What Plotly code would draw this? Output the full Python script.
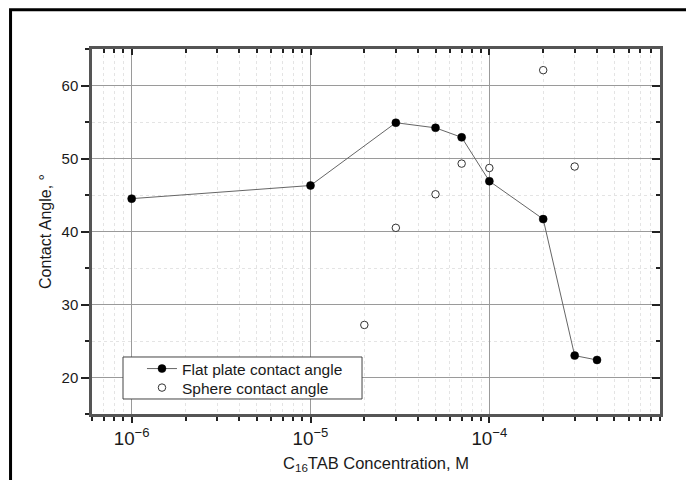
import plotly.graph_objects as go

# Data
flat_x = [1e-6, 1e-5, 3e-5, 5e-5, 7e-5, 1e-4, 2e-4, 3e-4, 4e-4]
flat_y = [44.5, 46.3, 54.9, 54.2, 52.9, 46.9, 41.7, 23.0, 22.4]
sphere_x = [2e-5, 3e-5, 5e-5, 7e-5, 1e-4, 2e-4, 3e-4]
sphere_y = [27.2, 40.5, 45.1, 49.3, 48.7, 62.1, 48.9]
y_ticks = [20, 30, 40, 50, 60]

FONT = "Liberation Sans, Arial, sans-serif"
AXC = "#555555"
TXT = "#1a1a1a"

fig = go.Figure()
fig.add_trace(go.Scatter(
    x=flat_x, y=flat_y, mode="lines+markers", name="Flat plate contact angle",
    line=dict(color="#666666", width=1),
    marker=dict(color="black", size=8, line=dict(color="black", width=0.5)),
    legend="legend",
))
fig.add_trace(go.Scatter(
    x=sphere_x, y=sphere_y, mode="markers", name="Sphere contact angle",
    marker=dict(color="white", size=7.5, line=dict(color="#333333", width=1)),
    legend="legend2",
))
# invisible trace to create the mirrored axes
fig.add_trace(go.Scatter(x=[None], y=[None], xaxis="x2", yaxis="y2",
                         showlegend=False, hoverinfo="skip"))

xr = [-6.2218, -3.0458]
yr = [15, 65]

leg_common = dict(
    xanchor="left", yanchor="middle",
    bgcolor="rgba(0,0,0,0)", borderwidth=0,
    font=dict(family=FONT, size=15.5, color=TXT),
    itemwidth=30,
)

fig.update_layout(
    width=686, height=480,
    margin=dict(l=92, r=26, t=49, b=66, autoexpand=False),
    paper_bgcolor="white", plot_bgcolor="white",
    font=dict(family=FONT, size=15, color=TXT),
    showlegend=True,
    legend=dict(x=0.088, y=0.1233, **leg_common),
    legend2=dict(x=0.088, y=0.0712, **leg_common),
    xaxis=dict(
        type="log", range=xr, dtick=1, exponentformat="power", automargin=False,
        showline=True, linecolor=AXC, linewidth=2.5,
        ticks="outside", ticklen=6, tickwidth=1.5, tickcolor="#222222",
        showgrid=True, gridcolor="#9a9a9a", gridwidth=1,
        zeroline=False,
        tickfont=dict(family=FONT, size=15, color=TXT),
        minor=dict(dtick="D1", ticks="outside", ticklen=4, tickwidth=1.5,
                   tickcolor="#222222", showgrid=True, gridcolor="#e4e4e4",
                   griddash="dot", gridwidth=1),
        title=dict(text="C<sub>16</sub>TAB Concentration, M",
                   font=dict(family=FONT, size=16.5, color=TXT), standoff=10),
    ),
    yaxis=dict(
        range=yr, tickvals=y_ticks, automargin=False,
        showline=True, linecolor=AXC, linewidth=2.5,
        ticks="outside", ticklen=8, tickwidth=1.5, tickcolor="#222222",
        showgrid=True, gridcolor="#9a9a9a", gridwidth=1,
        zeroline=False,
        tickfont=dict(family=FONT, size=15, color=TXT),
        minor=dict(dtick=5, ticks="outside", ticklen=4, tickwidth=1.5,
                   tickcolor="#222222", showgrid=True, gridcolor="#e4e4e4",
                   griddash="dot", gridwidth=1),
        title=dict(text="Contact Angle, °",
                   font=dict(family=FONT, size=16, color=TXT), standoff=6),
    ),
    xaxis2=dict(
        type="log", range=xr, dtick=1, overlaying="x", side="top", anchor="y2",
        automargin=False,
        showline=True, linecolor=AXC, linewidth=2.5,
        ticks="inside", ticklen=6, tickwidth=1.5, tickcolor="#222222",
        showticklabels=False, showgrid=False, zeroline=False,
        minor=dict(dtick="D1", ticks="inside", ticklen=4, tickwidth=1.5,
                   tickcolor="#222222", showgrid=False),
    ),
    yaxis2=dict(
        range=yr, tickvals=y_ticks, overlaying="y", side="right", anchor="x2",
        automargin=False,
        showline=True, linecolor=AXC, linewidth=2.5,
        ticks="inside", ticklen=8, tickwidth=1.5, tickcolor="#222222",
        showticklabels=False, showgrid=False, zeroline=False,
        minor=dict(dtick=5, ticks="inside", ticklen=4, tickwidth=1.5,
                   tickcolor="#222222", showgrid=False),
    ),
)

# legend box
fig.add_shape(type="rect", xref="paper", yref="paper",
              x0=0.0546, x1=0.4754, y0=0.0411, y1=0.1562,
              fillcolor="white", line=dict(color="#444444", width=1), layer="above")

# outer frame (left and top edges visible, rest cropped off the image)
fig.add_shape(type="path", xref="paper", yref="paper",
              path="M -0.1434,-0.5 L -0.1434,1.1075 L 1.5,1.1075",
              line=dict(color="black", width=3), layer="above")

fig.write_html("out.html")
